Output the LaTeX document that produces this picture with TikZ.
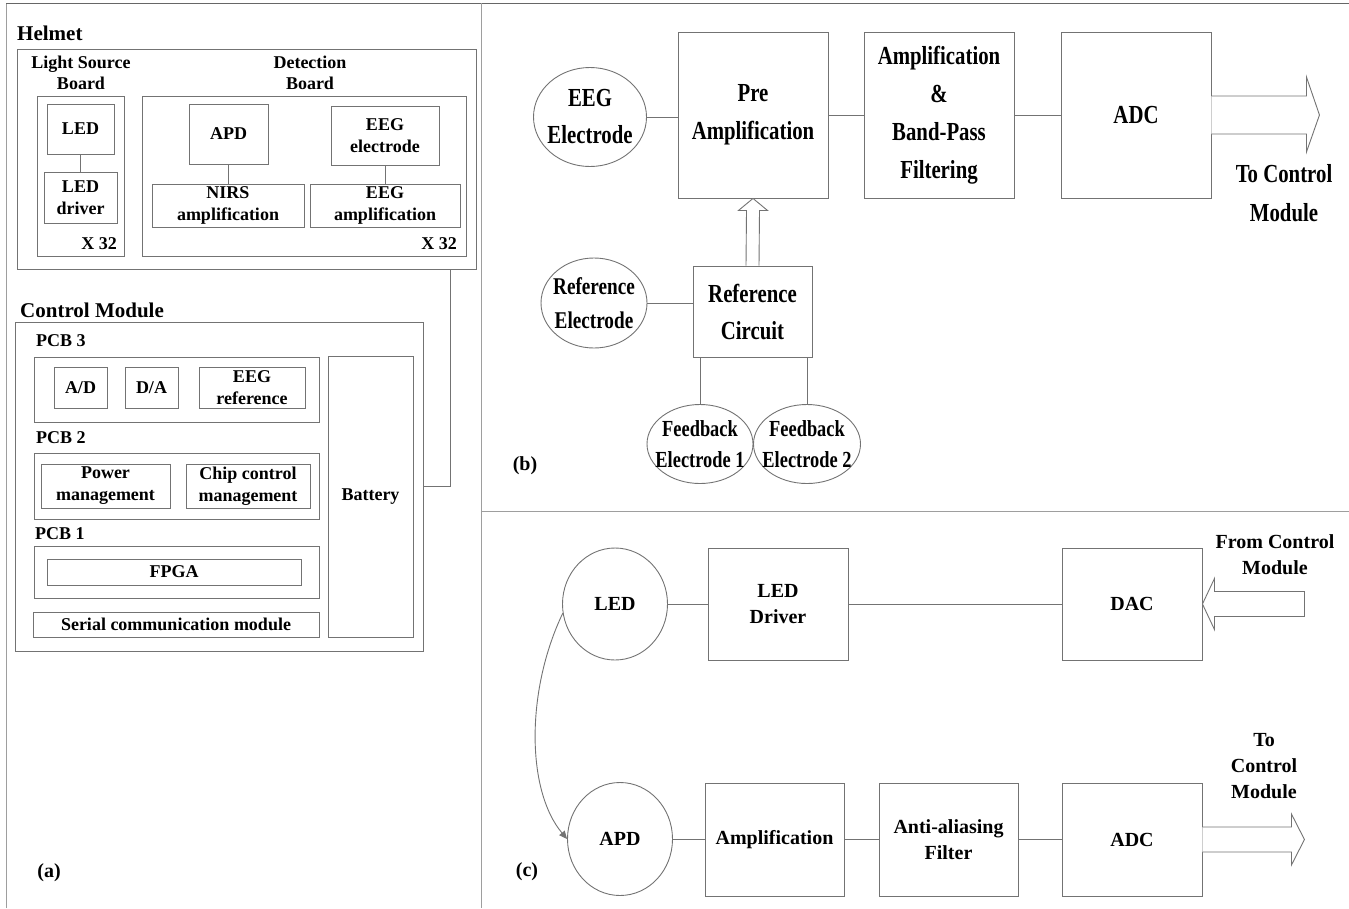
\documentclass[tikz,border=0pt]{standalone}
\usepackage{fontspec}
\setmainfont{Liberation Serif}
\newfontfamily\condf[FakeStretch=0.8]{Liberation Serif}
\usetikzlibrary{calc,arrows.meta,shapes.geometric}
\definecolor{linegray}{gray}{0.45}
\definecolor{framegray}{gray}{0.62}
\begin{document}
\begin{tikzpicture}[x=1pt,y=-1pt,
  lc/.style={draw=linegray,line width=0.9pt},
  sz/.style 2 args={minimum width=#1,minimum height=#2},
  abox/.style={lc,rectangle,inner sep=0pt,align=center,font=\fontsize{18}{22}\selectfont\bfseries},
  atxt/.style={inner sep=0pt,align=center,font=\fontsize{18}{21}\selectfont\bfseries},
  ttl/.style={inner sep=0pt,anchor=west,font=\fontsize{21}{25}\selectfont\bfseries},
  pcb/.style={inner sep=0pt,anchor=west,font=\fontsize{18}{22}\selectfont\bfseries},
  bbox/.style={lc,rectangle,inner sep=0pt,align=center,font=\condf\fontsize{26}{38}\selectfont\bfseries},
  btxt/.style={inner sep=0pt,align=center,font=\condf\fontsize{26}{37}\selectfont\bfseries},
  bell/.style={lc,ellipse,inner sep=0pt},
  cbox/.style={lc,rectangle,inner sep=0pt,align=center,font=\fontsize{20}{26}\selectfont\bfseries},
  ctxt/.style={inner sep=0pt,align=center,font=\fontsize{20}{26}\selectfont\bfseries},
  plabel/.style={inner sep=0pt,font=\fontsize{20}{24}\selectfont\bfseries},
  bigarrow/.style={lc,fill=white,line join=miter}
]
\useasboundingbox (0,0) rectangle (1349,908);
% frame
\draw[framegray,line width=1pt] (6,908) -- (6,3);
\draw[black!60,line width=1pt] (6,3) -- (1349,3);
\draw[framegray,line width=1pt] (481,3) -- (481,908);
\draw[framegray,line width=1pt] (481,511) -- (1349,511);

%% ---------------- Panel (a)
\node[ttl] (helmett) at (17,33) {Helmet};
\node[abox,sz={459}{220}] (helmet) at (246.5,159) {};
\node[atxt] (lsbt) at (81,73) {Light Source\\Board};
\node[atxt] (detbt) at (310,73) {Detection\\Board};
\node[abox,sz={87}{160}] (lsb) at (80.5,176) {};
\node[abox,sz={67}{50}] (led) at (80.5,129) {LED};
\node[abox,sz={73}{51}] (leddrv) at (80.5,197.5) {LED\\driver};
\draw[lc] (led) -- (leddrv);
\node[atxt,anchor=east,font=\fontsize{18}{22}\selectfont\bfseries] (x32a) at (117,244) {X 32};
\node[abox,sz={324}{160}] (detb) at (304,176) {};
\node[abox,sz={79}{60}] (apd) at (228.5,134) {APD};
\node[abox,sz={152}{43}] (nirs) at (228,205.5) {NIRS\\amplification};
\draw[lc] (apd.south) -- (apd.south |- nirs.north);
\node[abox,sz={108}{59}] (eegel) at (385,135.5) {EEG\\electrode};
\node[abox,sz={150}{43}] (eegamp) at (385,205.5) {EEG\\amplification};
\draw[lc] (eegel.south) -- (eegel.south |- eegamp.north);
\node[atxt,anchor=east,font=\fontsize{18}{22}\selectfont\bfseries] (x32b) at (457,244) {X 32};

\node[ttl] (cmt) at (20,310) {Control Module};
\node[abox,sz={408}{329}] (cm) at (219,486.5) {};
\node[pcb] (pcb3t) at (36,341) {PCB 3};
\node[abox,sz={285}{65}] (pcb3) at (176.5,389.5) {};
\node[abox,sz={53}{41}] (ad) at (80.5,387.5) {A/D};
\node[abox,sz={53}{41}] (da) at (151.5,387.5) {D/A};
\node[abox,sz={106}{41}] (eegref) at (252,387.5) {EEG\\reference};
\node[pcb] (pcb2t) at (36,438) {PCB 2};
\node[abox,sz={285}{66}] (pcb2) at (176.5,486) {};
\node[abox,sz={129}{44}] (pm) at (105.5,486) {Power\\management};
\node[abox,sz={124}{44}] (ccm) at (248,486) {Chip control\\management};
\node[pcb] (pcb1t) at (35,534) {PCB 1};
\node[abox,sz={285}{52}] (pcb1) at (176.5,572) {};
\node[abox,sz={254}{26}] (fpga) at (174,572) {FPGA};
\node[abox,sz={286}{25}] (serial) at (176,624.5) {Serial communication module};
\node[abox,sz={85}{281}] (battery) at (370.5,496.5) {Battery};
\coordinate (hc) at (450,269);
\draw[lc] (helmet.south -| hc) |- (cm.east);
\node[plabel] (la) at (49,873) {(a)};

%% ---------------- Panel (b)
\node[bell,sz={113}{99}] (eegE) at (590,117) {};
\node[btxt] (eegEt) at (eegE) {EEG\\Electrode};
\node[bbox,sz={150}{166}] (pre) at (753,115) {Pre\\Amplification};
\node[bbox,sz={150}{166}] (abp) at (939,115) {Amplification\\\&\\Band-Pass\\Filtering};
\node[bbox,sz={150}{166}] (adcb) at (1136,115) {ADC};
\draw[lc] (eegE.east) -- (eegE.east -| pre.west);
\draw[lc] (pre.east) -- (abp.west);
\draw[lc] (abp.east) -- (adcb.west);
\draw[bigarrow] ($(adcb.east)+(0,-19)$) -- ($(adcb.east)+(95,-19)$) -- ($(adcb.east)+(95,-38)$)
  -- ($(adcb.east)+(108,0)$) -- ($(adcb.east)+(95,37)$) -- ($(adcb.east)+(95,19)$) -- ($(adcb.east)+(0,19)$);
\node[btxt,font=\condf\fontsize{26}{39}\selectfont\bfseries] (tocm1) at (1284,193) {To Control\\Module};
\node[bbox,sz={119}{91},font=\condf\fontsize{26}{37}\selectfont\bfseries] (refc) at (752.5,311.5) {Reference\\Circuit};
\draw[bigarrow] ($(refc.north)+(-6.5,0)$) -- ($(pre.south)+(-6.5,12)$) -- ($(pre.south)+(-14.5,12)$)
  -- (pre.south) -- ($(pre.south)+(14.5,12)$) -- ($(pre.south)+(6.5,12)$) -- ($(refc.north)+(6.5,0)$);
\node[bell,sz={106}{90}] (refE) at (594,303) {};
\node[btxt,font=\condf\fontsize{24}{34}\selectfont\bfseries] (refEt) at (refE) {Reference\\Electrode};
\draw[lc] (refE.east) -- (refE.east -| refc.west);
\node[bell,sz={106}{79}] (fb1) at (700,444) {};
\node[btxt,font=\condf\fontsize{23}{31}\selectfont\bfseries] (fb1t) at (fb1) {Feedback\\Electrode 1};
\node[bell,sz={107}{79}] (fb2) at (807,444) {};
\node[btxt,font=\condf\fontsize{23}{31}\selectfont\bfseries] (fb2t) at (fb2) {Feedback\\Electrode 2};
\draw[lc] (fb1.north) -- (fb1.north |- refc.south);
\draw[lc] (fb2.north) -- (fb2.north |- refc.south);
\node[plabel] (lb) at (525,466) {(b)};

%% ---------------- Panel (c)
\node[lc,ellipse,inner sep=0pt,sz={105}{112},font=\fontsize{20}{26}\selectfont\bfseries] (ledc) at (615,604) {LED};
\node[cbox,sz={140}{112}] (ledd) at (778,604) {LED\\Driver};
\node[cbox,sz={140}{112}] (dac) at (1132,604) {DAC};
\draw[lc] (ledc.east) -- (ledd.west);
\draw[lc] (ledd.east) -- (dac.west);
\draw[bigarrow] (dac.east) -- ($(dac.east)+(12,-25.5)$) -- ($(dac.east)+(12,-12.5)$) -- ($(dac.east)+(102,-12.5)$)
  -- ($(dac.east)+(102,12.5)$) -- ($(dac.east)+(12,12.5)$) -- ($(dac.east)+(12,25.5)$) -- cycle;
\node[ctxt] (fromcm) at (1275,555) {From Control\\Module};
\node[lc,ellipse,inner sep=0pt,sz={105}{113},font=\fontsize{20}{26}\selectfont\bfseries] (apdc) at (620,839) {APD};
\node[cbox,sz={139}{113}] (amp) at (774.5,839.5) {Amplification};
\node[cbox,sz={139}{113}] (aaf) at (948.5,839.5) {Anti-aliasing\\Filter};
\node[cbox,sz={140}{113}] (adcc) at (1132,839.5) {ADC};
\draw[lc] (apdc.east) -- (apdc.east -| amp.west);
\draw[lc] (amp.east) -- (aaf.west);
\draw[lc] (aaf.east) -- (adcc.west);
\draw[bigarrow] ($(adcc.east)+(0,-12.5)$) -- ($(adcc.east)+(89,-12.5)$) -- ($(adcc.east)+(89,-25.5)$)
  -- ($(adcc.east)+(102,0)$) -- ($(adcc.east)+(89,25.5)$) -- ($(adcc.east)+(89,12.5)$) -- ($(adcc.east)+(0,12.5)$);
\node[ctxt] (tocm2) at (1264,766) {To\\Control\\Module};
\draw[draw=linegray,line width=0.9pt,-{Triangle[length=8pt,width=7pt]}] (ledc.190) .. controls (526,690) and (526,790) .. (apdc.west);
\node[plabel] (lc) at (527,872) {(c)};
\end{tikzpicture}
\end{document}
